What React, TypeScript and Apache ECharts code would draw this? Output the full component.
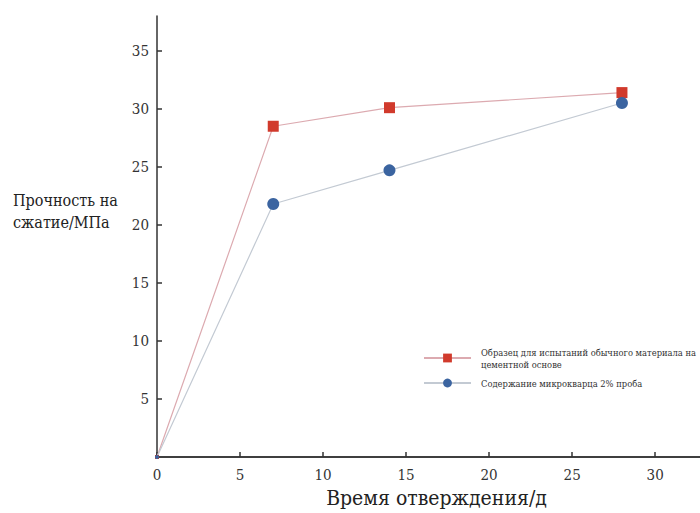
import React, { useEffect, useRef } from "react";
import * as echarts from "echarts";

const curingDays = [0, 7, 14, 28];
const plainSample = [0, 28.5, 30.1, 31.4];
const additiveSample = [0, 21.8, 24.7, 30.5];
const seriesNames = [
  "Образец для испытаний обычного материала на\nцементной основе",
  "Содержание микрокварца 2% проба",
];
const xTitle = "Время отверждения/д";
const yTitle = "Прочность на\nсжатие/МПа";

const FONT = "DejaVu Serif Condensed, DejaVu Serif";

export default function App() {
  const ref = useRef<HTMLDivElement>(null);
  useEffect(() => {
    if (!ref.current) return;
    const chart = echarts.init(ref.current, undefined, { renderer: "svg" });
    chart.setOption({
      animation: false,
      backgroundColor: "#ffffff",
      textStyle: { fontFamily: FONT },
      grid: { left: 157, top: 16, right: 0, height: 441, containLabel: false },
      legend: {
        orient: "vertical",
        left: 418,
        top: 335,
        itemWidth: 47,
        itemHeight: 11,
        itemGap: 1,
        textStyle: { fontFamily: FONT, fontSize: 9.3, color: "#333", lineHeight: 12, padding: [0, 0, 0, 5] },
        data: [
          { name: seriesNames[0], textStyle: { fontFamily: FONT, padding: [12, 0, 0, 5] } },
          { name: seriesNames[1] },
        ],
      },
      graphic: [
        {
          type: "text",
          left: 13,
          top: 189,
          style: { text: yTitle, fontFamily: FONT, fontSize: 16, fill: "#222", lineHeight: 22 },
        },
      ],
      xAxis: [
        {
          type: "value",
          min: 0,
          max: 32.7,
          interval: 5,
          name: xTitle,
          nameLocation: "middle",
          nameGap: 30,
          nameTextStyle: { fontFamily: FONT, fontSize: 21, color: "#222", padding: [0, 0, 0, 16] },
          axisLine: { show: true, onZero: false, lineStyle: { color: "#333", width: 1.5 } },
          axisTick: { show: true, inside: true, length: 5, lineStyle: { color: "#333", width: 1.5 } },
          axisLabel: { fontFamily: FONT, fontSize: 15, color: "#333", margin: 10, showMaxLabel: false },
          splitLine: { show: false },
        },
        {
          type: "value",
          position: "top",
          min: 0,
          max: 32.7,
          axisLine: { show: true, lineStyle: { color: "#333", width: 1.5 } },
          axisTick: { show: false },
          axisLabel: { show: false },
          splitLine: { show: false },
        },
      ],
      yAxis: {
        type: "value",
        min: 0,
        max: 38,
        interval: 5,
        axisLine: { show: true, onZero: false, lineStyle: { color: "#333", width: 1.5 } },
        axisTick: { show: true, inside: true, length: 5, lineStyle: { color: "#333", width: 1.5 } },
        axisLabel: { fontFamily: FONT, fontSize: 15, color: "#333", margin: 8, showMinLabel: false, showMaxLabel: false },
        splitLine: { show: false },
      },
      series: [
        {
          name: seriesNames[0],
          type: "line",
          data: curingDays.map((d, i) => [d, plainSample[i]]),
          symbol: "rect",
          symbolSize: (v: number[]) => (v[1] === 0 ? 4 : 11),
          lineStyle: { color: "#dcaab0", width: 1.2 },
          itemStyle: { color: "#d13a2c" },
          z: 3,
        },
        {
          name: seriesNames[1],
          type: "line",
          data: curingDays.map((d, i) => [d, additiveSample[i]]),
          symbol: "circle",
          symbolSize: (v: number[]) => (v[1] === 0 ? 4 : 12),
          lineStyle: { color: "#c3cad3", width: 1.2 },
          itemStyle: { color: "#3b64a0" },
          z: 3,
        },
      ],
    });
    return () => chart.dispose();
  }, []);
  return (
    <div
      ref={ref}
      style={{ position: "fixed", left: 0, top: 0, width: 700, height: 513, background: "#fff" }}
    />
  );
}
